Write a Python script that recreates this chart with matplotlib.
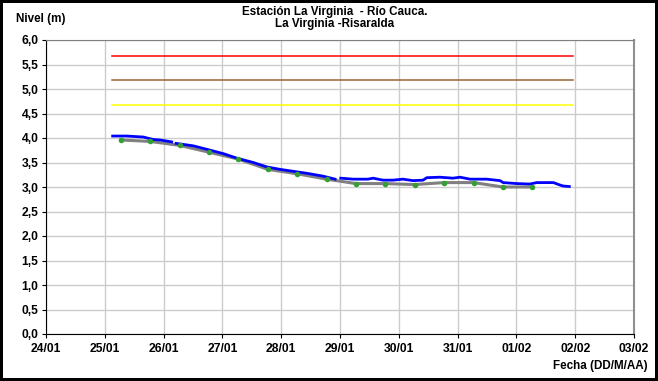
import numpy as np
import matplotlib
matplotlib.use('Agg')
import matplotlib.pyplot as plt
from matplotlib.ticker import FuncFormatter

# hours since 25/01 00:00, observed level (m); nan = missing data
obs_hours = [3.2, 8.9, 15.7, 19.7, 22.5, 27.3, np.nan, 29.1, 36.1, 41.6, 48.4,
             53.8, 60.6, 66.1, 71.5, 75.6, 82.4, 89.2, 94.0, np.nan, 96.3,
             101.4, 107.4, 109.5, 113.5, 117.6, 121.7, 125.8, 129.9, 131.4,
             136.8, 142.1, 145.0, 149.1, 155.9, 161.3, 162.6, 168.1, 173.5,
             176.3, 183.1, 185.8, 187.1, 189.6]
obs_level = [4.04, 4.04, 4.02, 3.97, 3.96, 3.92, np.nan, 3.89, 3.84, 3.77, 3.68,
             3.59, 3.50, 3.41, 3.36, 3.33, 3.28, 3.22, 3.16, np.nan, 3.18,
             3.16, 3.16, 3.18, 3.14, 3.14, 3.16, 3.13, 3.14, 3.19,
             3.20, 3.18, 3.20, 3.16, 3.16, 3.13, 3.09, 3.07, 3.06,
             3.09, 3.09, 3.04, 3.02, 3.01]

# manual readings (06:30 and 18:30)
read_hours = [6.5, 18.5, 30.5, 42.5, 54.5, 66.5, 78.5, 90.5, 102.5, 114.5,
              126.5, 138.5, 150.5, 162.5, 174.5]
read_level = [3.96, 3.93, 3.85, 3.71, 3.57, 3.36, 3.27, 3.16, 3.07, 3.07,
              3.05, 3.09, 3.09, 3.00, 3.00]

# alert thresholds
alert_levels = [5.68, 5.18, 4.68]
alert_colors = ['#FF0000', '#996633', '#FFFF00']
alert_span = [3.0, 191.0]

day_labels = ['24/01', '25/01', '26/01', '27/01', '28/01', '29/01',
              '30/01', '31/01', '01/02', '02/02', '03/02']


def to_days(hours):
    # x axis: days since 24/01 00:00
    return 1 + np.array(hours, dtype=float) / 24.0


fig = plt.figure(figsize=(6.58, 3.81), dpi=100, linewidth=4, edgecolor='black')
ax = fig.add_axes([46 / 658, 1 - 334 / 381, 588 / 658, 294 / 381])

for lvl, col in zip(alert_levels, alert_colors):
    ax.plot(to_days(alert_span), [lvl, lvl], color=col, lw=1.1, zorder=3)

ax.plot(to_days(read_hours), read_level, color='#808080', lw=2.2, zorder=4)
ax.plot(to_days(obs_hours), obs_level, color='#0000FF', lw=2.0, zorder=5)
ax.plot(to_days(read_hours), read_level, 'o', color='#33A033', ms=4,
        markeredgewidth=0, zorder=6)

ax.set_xlim(0, 10)
ax.set_ylim(0, 6)
ax.set_xticks(range(len(day_labels)))
ax.set_xticklabels(day_labels)
ax.set_yticks(np.arange(0, 6.01, 0.5))
ax.yaxis.set_major_formatter(FuncFormatter(lambda v, p: ('%.1f' % v).replace('.', ',')))
ax.grid(True, color='#CCCCCC', lw=1.0, zorder=0)
ax.set_axisbelow(True)

for lab in ax.get_xticklabels() + ax.get_yticklabels():
    lab.set_fontfamily('Liberation Sans')
    lab.set_fontweight('bold')
    lab.set_fontsize(8.7)
ax.tick_params(axis='both', direction='out', length=3, width=0.8, color='black')
ax.tick_params(axis='y', pad=2.5)
ax.tick_params(axis='x', pad=3.5)

ax.spines['left'].set_color('black')
ax.spines['bottom'].set_color('black')
ax.spines['top'].set_color('#808080')
ax.spines['right'].set_color('#909090')
ax.spines['right'].set_linewidth(1.5)

tfont = dict(family='Liberation Sans', weight='bold', size=8.4)
fig.text(335 / 658, 1 - 12 / 381, 'Estación La Virginia  - Río Cauca.',
         ha='center', va='center', **tfont)
fig.text(335 / 658, 1 - 24 / 381, 'La Virginia -Risaralda',
         ha='center', va='center', **tfont)
fig.text(16 / 658, 1 - 19 / 381, 'Nivel (m)', ha='left', va='center', **tfont)
fig.text(648 / 658, 1 - 366 / 381, 'Fecha (DD/M/AA)', ha='right', va='center', **tfont)

fig.savefig('out.png', dpi=100)
